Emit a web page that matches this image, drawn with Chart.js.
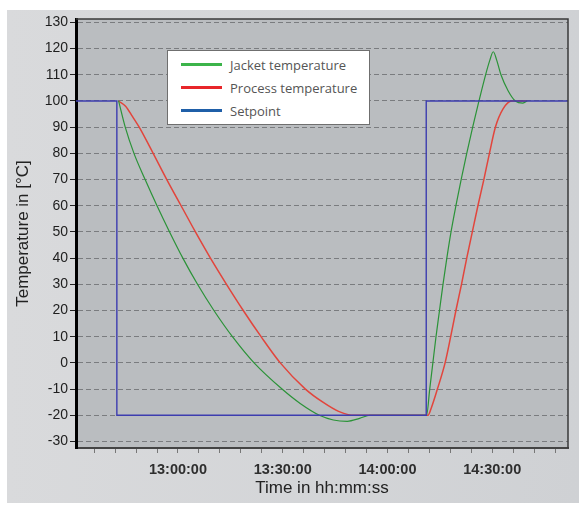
<!DOCTYPE html>
<html>
<head>
<meta charset="utf-8">
<script src="https://cdn.jsdelivr.net/npm/chart.js@4/dist/chart.umd.min.js"></script>
<style>
  body { margin: 0; background: #fff; width: 579px; height: 513px; position: relative; overflow: hidden; }
  #panel { position: absolute; left: 7px; top: 10px; width: 572px; height: 493px;
           background: linear-gradient(to right, #d9dadc, #cfd1d4); }
  #wrap { position: absolute; left: 0; top: 0; width: 579px; height: 513px; }
  #legend { position: absolute; left: 167px; top: 50px; width: 201px; height: 73px;
            background: #fff; border: 1px solid #6f6f6f; font-family: "Open Sans", sans-serif;
            font-size: 13px; color: #555; }
  #legend div { position: absolute; left: 0; height: 20px; line-height: 20px; }
  #legend span.sw { position: absolute; left: 13px; top: 8px; width: 41px; height: 3px; }
  #legend span.tx { position: absolute; left: 62px; white-space: nowrap; }
</style>
</head>
<body>
<div id="panel"></div>
<div id="wrap"><canvas id="tempChart" width="579" height="513"></canvas></div>
<div id="legend"></div>
<script>
// time in minutes after 12:00
const setpointTime = [30.8, 42.5, 42.5, 131.1, 131.1, 171.7];
const setpointTemp = [100, 100, -20, -20, 100, 100];

const jacketTime = [43, 44.9, 47.4, 50.6, 54.0, 57.6, 61.4, 65.6, 70.3, 75.6, 81.8, 89.8, 95, 100.5, 104.5, 108.5, 112, 115, 131.2,
                    132.1, 133.0, 133.9, 134.9, 135.9, 137.0, 138.2, 139.6, 141.1, 142.7, 144.4, 146.2, 148.1, 149.3, 150.3, 151.3, 152.5, 154.5, 156.6, 158.8, 160];
const jacketTemp = [100, 90, 80, 70, 60, 50, 40, 30, 20, 10, 0, -10, -15.5, -20, -21.8, -22.3, -21.2, -20, -20,
                    -10, 0, 10, 20, 30, 40, 50, 60, 70, 80, 90, 100, 110, 115.5, 118.8, 115.5, 110, 104, 100, 99.2, 100];

const processTime = [43, 45, 47, 48.9, 52.9, 56.8, 60.9, 65.0, 69.3, 73.9, 78.7, 83.8, 89.3, 96.5, 101.5, 106, 110.5, 131.6,
                     132.6, 134.3, 136.5, 138.1, 139.6, 141.2, 142.7, 144.3, 145.9, 147.6, 149.2, 150.9, 153.1, 155.6, 160];
const processTemp = [100, 98, 94, 90, 80, 70, 60, 50, 40, 30, 20, 10, 0, -10, -15, -18.5, -20, -20,
                     -17, -10, 0, 10, 20, 30, 40, 50, 60, 70, 80, 90, 97, 100, 100];

const xTicks = [36, 42, 48, 54, 60, 66, 72, 78, 84, 90, 96, 102, 108, 114, 120, 126, 132, 138, 144, 150, 156, 162, 168];
const xLabels = [60, 90, 120, 150];
const yTicks = [-30, -20, -10, 0, 10, 20, 30, 40, 50, 60, 70, 80, 90, 100, 110, 120, 130];

function pts(t, v) { return t.map((x, i) => ({ x: x, y: v[i] })); }

function timeLabel(t) {
    let h = 12 + Math.floor(t / 60);
    let m = Math.round(t % 60);
    return h + ':' + String(m).padStart(2, '0') + ':00';
}

const legendItems = [
    { label: 'Jacket temperature', color: '#3cb44a' },
    { label: 'Process temperature', color: '#e8262a' },
    { label: 'Setpoint', color: '#1f5fa8' }
];
let lg = document.getElementById('legend');
legendItems.forEach((it, i) => {
    let row = document.createElement('div');
    row.style.top = (4 + i * 23) + 'px';
    row.style.width = '100%';
    row.innerHTML = '<span class="sw" style="background:' + it.color + '"></span><span class="tx">' + it.label + '</span>';
    lg.appendChild(row);
});

const plotFrame = {
    id: 'plotFrame',
    beforeDraw(chart) {
        let a = chart.chartArea, ctx = chart.ctx;
        ctx.save();
        ctx.fillStyle = '#babdc0';
        ctx.fillRect(a.left, a.top, a.right - a.left, a.bottom - a.top);
        ctx.restore();
    },
    afterDraw(chart) {
        let a = chart.chartArea, ctx = chart.ctx;
        ctx.save();
        ctx.strokeStyle = '#3a3a3a';
        ctx.lineWidth = 1.5;
        ctx.beginPath();
        ctx.moveTo(a.left, a.top);
        ctx.lineTo(a.right, a.top);
        ctx.lineTo(a.right, a.bottom);
        ctx.stroke();
        ctx.restore();
    }
};

let ctx = document.getElementById('tempChart').getContext('2d');
new Chart(ctx, {
    type: 'line',
    data: {
        datasets: [
            { label: 'Setpoint', data: pts(setpointTime, setpointTemp), borderColor: '#3d3daf', borderWidth: 1.4,
              pointRadius: 0, tension: 0, order: 0 },
            { label: 'Jacket temperature', data: pts(jacketTime, jacketTemp), borderColor: '#2b9338', borderWidth: 1.2,
              pointRadius: 0, cubicInterpolationMode: 'monotone', order: 1 },
            { label: 'Process temperature', data: pts(processTime, processTemp), borderColor: '#e2453c', borderWidth: 1.5,
              pointRadius: 0, cubicInterpolationMode: 'monotone', order: 2 }
        ]
    },
    options: {
        responsive: false,
        animation: false,
        layout: { padding: { left: 13, top: 19, right: 11, bottom: 14 } },
        plugins: { legend: { display: false }, tooltip: { enabled: false } },
        scales: {
            x: {
                type: 'linear',
                min: 30.8,
                max: 171.7,
                afterBuildTicks: s => { s.ticks = xTicks.map(v => ({ value: v })); },
                afterFit: s => { s.height = 51; },
                grid: { drawOnChartArea: false, drawTicks: true, tickLength: 5, tickColor: '#777' },
                border: { color: '#444', width: 2 },
                ticks: {
                    autoSkip: false, maxRotation: 0, padding: 8, color: '#2e2e2e',
                    font: { family: 'Liberation Sans', size: 14.5, weight: 'bold' },
                    callback: v => xLabels.includes(v) ? timeLabel(v) : ''
                },
                title: { display: true, text: 'Time in hh:mm:ss', color: '#222',
                         font: { family: 'Liberation Sans', size: 17 }, padding: { top: 0, bottom: 0 } }
            },
            y: {
                min: -32.5,
                max: 131.3,
                afterBuildTicks: s => { s.ticks = yTicks.map(v => ({ value: v })); },
                afterFit: s => { s.width = 63; },
                grid: { color: '#7a7c7f', tickBorderDash: [], tickColor: '#222', tickLength: 6 },
                border: { color: '#000', width: 3, dash: [5, 3] },
                ticks: { color: '#1e1e1e', padding: 2, font: { family: 'Liberation Sans', size: 14 } },
                title: { display: true, text: 'Temperature in [°C]', color: '#222',
                         font: { family: 'Liberation Sans', size: 17 }, padding: { top: 0, bottom: 2 } }
            }
        }
    },
    plugins: [plotFrame]
});
</script>
</body>
</html>
